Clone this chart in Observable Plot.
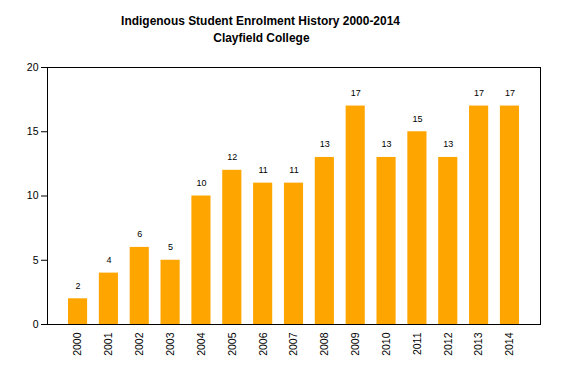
<!DOCTYPE html>
<html>
<head>
<meta charset="utf-8">
<script src="https://cdn.jsdelivr.net/npm/d3@7"></script>
<script src="https://cdn.jsdelivr.net/npm/@observablehq/plot@0.6"></script>
<style>
  body { margin: 0; background: #fff; font-family: "Liberation Sans", Arial, sans-serif; }
  #title { width: 522px; height: 43px; padding-top: 12px; text-align: center; font-weight: bold; font-size: 13.5px; line-height: 17px; color: #000; }
  #title span { display: inline-block; transform: scaleX(0.885); transform-origin: center; white-space: nowrap; }
  svg { display: block; }
</style>
</head>
<body>
<div id="title"><span>Indigenous Student Enrolment History 2000-2014</span><br><span>Clayfield College</span></div>
<div id="chart"></div>
<script>
const years = ["2000","2001","2002","2003","2004","2005","2006","2007","2008","2009","2010","2011","2012","2013","2014"];
const enrolments = [2,4,6,5,10,12,11,11,13,17,13,15,13,17,17];
const yTicks = [0,5,10,15,20];

const data = years.map((y, i) => ({year: y, value: enrolments[i]}));

const chart = Plot.plot({
  width: 567,
  height: 323,
  marginTop: 12,
  marginBottom: 54,
  marginLeft: 47,
  marginRight: 27,
  style: {fontFamily: "Liberation Sans, Arial, sans-serif", fontSize: "10.5px", color: "#000", background: "#fff"},
  x: {domain: years, paddingInner: 0.38, paddingOuter: 0.68, round: false, label: null},
  y: {domain: [0, 20], label: null},
  marks: [
    Plot.barY(data, {x: "year", y: "value", fill: "#FFA500"}),
    Plot.text(data, {x: "year", y: "value", text: d => String(d.value), dy: -13, fontSize: 9, fill: "#000"}),
    Plot.axisX({tickSize: 0, tickPadding: 8, tickRotate: -90, fontSize: 10.5}),
    Plot.axisY({ticks: yTicks, tickSize: 6, tickPadding: 3, fontSize: 10.5}),
    Plot.frame({stroke: "#000", strokeWidth: 1})
  ]
});
document.getElementById("chart").appendChild(chart);
</script>
</body>
</html>
